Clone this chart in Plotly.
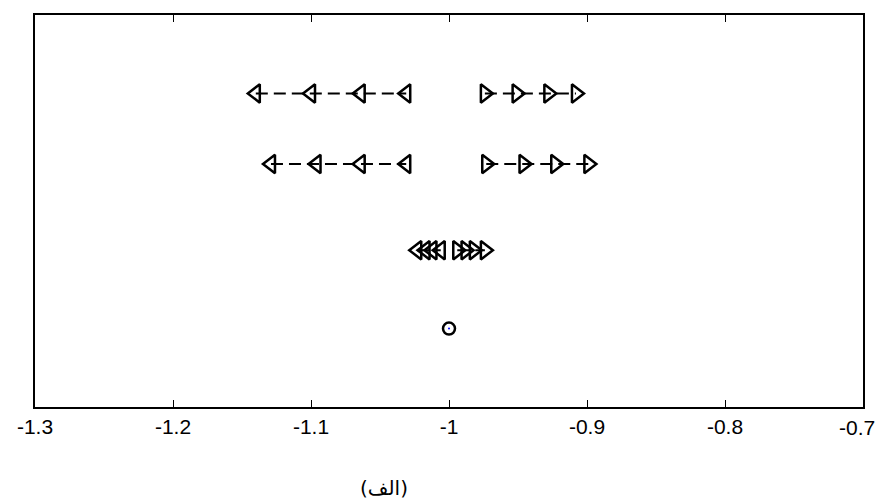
import plotly.graph_objects as go

# Pole positions for each case (real part), grouped by branch
row_levels = [4.0, 3.1, 2.0, 1.0]

left_row1 = [-1.140, -1.100, -1.064, -1.031]
right_row1 = [-0.974, -0.951, -0.928, -0.908]

left_row2 = [-1.129, -1.096, -1.064, -1.031]
right_row2 = [-0.973, -0.946, -0.923, -0.899]

left_row3 = [-1.023, -1.017, -1.012, -1.006]
right_row3 = [-0.994, -0.988, -0.982, -0.974]

center_row4 = [-1.0]

tick_vals = [-1.3, -1.2, -1.1, -1.0, -0.9, -0.8, -0.7]
tick_text = ["-1.3", "-1.2", "-1.1", "-1", "-0.9", "-0.8", "-0.7"]

TICK_FONT = dict(family="Liberation Sans", size=21, color="black")

fig = go.Figure()

line_style = dict(color="black", width=2, dash="12px,6px")


def branch(xs, y, symbol):
    fig.add_trace(go.Scatter(
        x=xs, y=[y] * len(xs), mode="lines+markers",
        line=line_style,
        marker=dict(symbol=symbol, size=16, color="black",
                    line=dict(color="black", width=2.5)),
        showlegend=False, hoverinfo="x",
    ))


branch(left_row1, row_levels[0], "triangle-left-open")
branch(right_row1, row_levels[0], "triangle-right-open")
branch(left_row2, row_levels[1], "triangle-left-open")
branch(right_row2, row_levels[1], "triangle-right-open")
branch(left_row3, row_levels[2], "triangle-left-open")
branch(right_row3, row_levels[2], "triangle-right-open")

fig.add_trace(go.Scatter(
    x=center_row4, y=[row_levels[3]], mode="markers",
    marker=dict(symbol="circle-open", size=12, color="black",
                line=dict(color="black", width=2.5)),
    showlegend=False, hoverinfo="x",
))
fig.add_trace(go.Scatter(
    x=center_row4, y=[row_levels[3]], mode="markers",
    marker=dict(symbol="circle", size=2, color="blue"),
    showlegend=False, hoverinfo="skip",
))

# The last tick label sits against the page edge, so it is right-aligned there
axis_text = tick_text[:-1] + [""]
fig.add_annotation(
    text=tick_text[-1], xref="paper", yref="paper",
    x=(877 - 35) / 828, y=(407 - 427) / 392,
    xanchor="right", yanchor="middle", showarrow=False, font=TICK_FONT,
)

fig.add_annotation(
    text="(الف)", xref="paper", yref="paper",
    x=0.4215, y=(407 - 488) / 392, xanchor="center", yanchor="middle",
    showarrow=False,
    font=dict(family="DejaVu Sans", size=20, color="black"),
)

fig.update_layout(
    width=877, height=500,
    margin=dict(l=35, r=14, t=15, b=93),
    plot_bgcolor="white", paper_bgcolor="white",
    font=dict(family="Liberation Sans", size=21, color="black"),
    xaxis=dict(
        range=[-1.3, -0.7], tickvals=tick_vals, ticktext=axis_text,
        tickfont=TICK_FONT, ticklabeloverflow="allow",
        ticks="inside", ticklen=7, tickwidth=1, tickcolor="black",
        showline=True, linecolor="black", linewidth=1.5, mirror="ticks",
        showgrid=False, zeroline=False, automargin=False,
    ),
    yaxis=dict(
        range=[0, 5], showticklabels=False, ticks="",
        showline=True, linecolor="black", linewidth=1.5, mirror=True,
        showgrid=False, zeroline=False, automargin=False,
    ),
)

fig.write_html("out.html")
